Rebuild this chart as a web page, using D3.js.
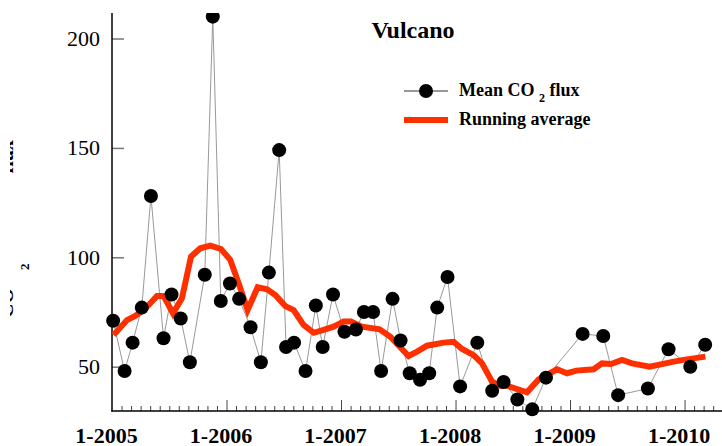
<!DOCTYPE html>
<html>
<head>
<meta charset="utf-8">
<script src="https://cdn.jsdelivr.net/npm/d3@7"></script>
<style>
    body { margin: 0; background: #fff; }
    svg { display: block; font-family: "Liberation Serif", "Times New Roman", serif; }
</style>
</head>
<body>
<div id="chart"></div>
<script>
// mean CO2 flux, sample dates as decimal years
const fluxDates = [2005.01, 2005.11, 2005.18, 2005.26, 2005.34, 2005.45, 2005.52, 2005.60, 2005.68, 2005.81,
    2005.88, 2005.95, 2006.03, 2006.11, 2006.21, 2006.30, 2006.37, 2006.46, 2006.52, 2006.59,
    2006.69, 2006.78, 2006.84, 2006.93, 2007.03, 2007.13, 2007.20, 2007.28, 2007.35, 2007.45,
    2007.52, 2007.60, 2007.69, 2007.77, 2007.84, 2007.93, 2008.04, 2008.19, 2008.32, 2008.42,
    2008.54, 2008.67, 2008.79, 2009.11, 2009.29, 2009.42, 2009.68, 2009.86, 2010.05, 2010.18];
const fluxValues = [71, 48, 61, 77, 128, 63, 83, 72, 52, 92,
    210, 80, 88, 81, 68, 52, 93, 149, 59, 61,
    48, 78, 59, 83, 66, 67, 75, 75, 48, 81,
    62, 47, 44, 47, 77, 91, 41, 61, 39, 43,
    35, 30.5, 45, 65, 64, 37, 40, 58, 50, 60];

// running average
const avgDates = [2005.014, 2005.131, 2005.203, 2005.276, 2005.334, 2005.393, 2005.451, 2005.533, 2005.611, 2005.690,
    2005.771, 2005.859, 2005.952, 2006.033, 2006.106, 2006.184, 2006.272, 2006.354, 2006.426, 2006.514,
    2006.586, 2006.673, 2006.761, 2006.848, 2006.935, 2007.023, 2007.087, 2007.183, 2007.337, 2007.431,
    2007.590, 2007.664, 2007.751, 2007.896, 2007.983, 2008.057, 2008.158, 2008.231, 2008.319, 2008.391,
    2008.450, 2008.624, 2008.726, 2008.886, 2008.974, 2009.055, 2009.206, 2009.279, 2009.358, 2009.454,
    2009.541, 2009.695, 2009.803, 2009.905, 2009.992, 2010.079, 2010.182];
const avgValues = [64.5, 71.3, 73.2, 75.9, 79, 82.3, 82.3, 74.4, 81.3, 100.3,
    104.1, 105.3, 103.8, 98.8, 88.1, 75.9, 86.3, 85.4, 82.8, 77.7,
    75.9, 69.1, 65.5, 66.8, 68.3, 70.6, 70.6, 68.3, 67.1, 63.7,
    54.9, 56.9, 59.6, 61.0, 61.4, 58.1, 55.3, 51.5, 43.1, 41.3,
    41.3, 38.3, 44.2, 48.8, 47.0, 48.2, 48.8, 51.5, 51.2, 53.1,
    51.5, 50.0, 51.2, 52.3, 53.1, 53.8, 54.6];

const yearTicks = [2005, 2006, 2007, 2008, 2009, 2010];
const yTicks = [50, 100, 150, 200];
const title = "Vulcano";
const legendLabels = ["Mean CO", "2", "flux", "Running average"];

const width = 722, height = 446;
const red = "#ff3000";

const svg = d3.select("#chart")
    .append("svg")
    .attr("width", width)
    .attr("height", height);

const xScale = d3.scaleLinear()
    .domain([2005, 2010.327])
    .range([112, 722]);

const yScale = d3.scaleLinear()
    .domain([29.75, 211.66])
    .range([411, 13]);

// y axis title: the scan only shows its lower edge, a nested svg crops it the same way
const ylab = svg.append("svg")
    .attr("x", 10).attr("y", 0)
    .attr("width", 30).attr("height", height)
    .append("text")
    .attr("transform", "translate(3, 318) rotate(-90)")
    .attr("font-size", 20)
    .attr("font-weight", "bold")
    .attr("fill", "#000");
ylab.append("tspan").text("CO");
ylab.append("tspan").attr("font-size", 13).attr("dx", 18).attr("dy", 16).text("2");
ylab.append("tspan").attr("dx", 90).attr("dy", -16).text("flux");

// axes
const yAxis = d3.axisLeft(yScale)
    .tickValues(yTicks)
    .tickSize(-12)
    .tickPadding(12);

svg.append("g")
    .attr("class", "axis y")
    .attr("transform", `translate(112, 0)`)
    .call(yAxis)
    .call(g => g.select(".domain").remove())
    .call(g => g.selectAll(".tick line").attr("stroke", "#777").attr("stroke-width", 1.5))
    .call(g => g.selectAll("text")
        .attr("font-family", "Liberation Serif, Times New Roman, serif")
        .attr("font-size", 22)
        .attr("fill", "#000"));

svg.append("line")
    .attr("x1", 112).attr("x2", 112)
    .attr("y1", 13).attr("y2", 411.5)
    .attr("stroke", "#000")
    .attr("stroke-width", 1.5);

const months = d3.range(1, 12 * 5 + 4).map(i => 2005 + i / 12).filter(m => Math.abs(m - Math.round(m)) > 1e-6);

svg.append("g")
    .attr("class", "axis x minor")
    .attr("transform", `translate(0, 411)`)
    .call(d3.axisBottom(xScale).tickValues(months).tickSize(-5).tickFormat(""))
    .call(g => g.select(".domain").remove())
    .call(g => g.selectAll(".tick line").attr("stroke", "#444"));

svg.append("g")
    .attr("class", "axis x")
    .attr("transform", `translate(0, 411)`)
    .call(d3.axisBottom(xScale)
        .tickValues(yearTicks)
        .tickSize(-11)
        .tickPadding(16.4)
        .tickFormat(d => "1-" + d))
    .call(g => g.select(".domain").remove())
    .call(g => g.selectAll(".tick line").attr("stroke", "#444"))
    .call(g => g.selectAll(".tick").filter(d => d === 2005).select("line").remove())
    .call(g => g.selectAll("text")
        .attr("dx", -6)
        .attr("font-family", "Liberation Serif, Times New Roman, serif")
        .attr("font-size", 22)
        .attr("font-weight", "bold")
        .attr("fill", "#000"));

svg.append("line")
    .attr("x1", 111.25).attr("x2", width)
    .attr("y1", 411).attr("y2", 411)
    .attr("stroke", "#000")
    .attr("stroke-width", 1.5);

// marks
svg.append("clipPath")
    .attr("id", "plot-clip")
    .append("rect")
    .attr("x", 0).attr("y", 13)
    .attr("width", width).attr("height", height - 13);

const marks = svg.append("g")
    .attr("class", "marks")
    .attr("clip-path", "url(#plot-clip)");

const fluxData = fluxDates.map((d, i) => ({ date: d, value: fluxValues[i] }));
const avgData = avgDates.map((d, i) => ({ date: d, value: avgValues[i] }));

const line = d3.line()
    .x(d => xScale(d.date))
    .y(d => yScale(d.value));

marks.append("path")
    .datum(fluxData)
    .attr("fill", "none")
    .attr("stroke", "#999")
    .attr("stroke-width", 1)
    .attr("d", line);

marks.append("path")
    .datum(avgData)
    .attr("fill", "none")
    .attr("stroke", red)
    .attr("stroke-width", 6)
    .attr("stroke-linejoin", "miter")
    .attr("d", line);

marks.selectAll("circle.point")
    .data(fluxData)
    .join("circle")
    .attr("class", "point")
    .attr("fill", "#000")
    .attr("r", 7)
    .attr("cx", d => xScale(d.date))
    .attr("cy", d => yScale(d.value));

// title
svg.append("text")
    .attr("x", 413)
    .attr("y", 38)
    .attr("text-anchor", "middle")
    .attr("font-size", 24)
    .attr("font-weight", "bold")
    .text(title);

// legend
const legend = svg.append("g").attr("class", "legend");

legend.append("line")
    .attr("x1", 404).attr("x2", 448)
    .attr("y1", 91).attr("y2", 91)
    .attr("stroke", "#333")
    .attr("stroke-width", 1);

legend.append("circle")
    .attr("cx", 426).attr("cy", 91).attr("r", 7)
    .attr("fill", "#000");

const lt = legend.append("text")
    .attr("x", 459).attr("y", 96)
    .attr("font-size", 18)
    .attr("font-weight", "bold");
lt.append("tspan").text(legendLabels[0] + " ");
lt.append("tspan").attr("font-size", 12).attr("dy", 6).text(legendLabels[1]);
lt.append("tspan").attr("dy", -6).text(" " + legendLabels[2]);

legend.append("line")
    .attr("x1", 404).attr("x2", 448)
    .attr("y1", 120).attr("y2", 120)
    .attr("stroke", red)
    .attr("stroke-width", 6);

legend.append("text")
    .attr("x", 459).attr("y", 125)
    .attr("font-size", 18)
    .attr("font-weight", "bold")
    .text(legendLabels[3]);
</script>
</body>
</html>
